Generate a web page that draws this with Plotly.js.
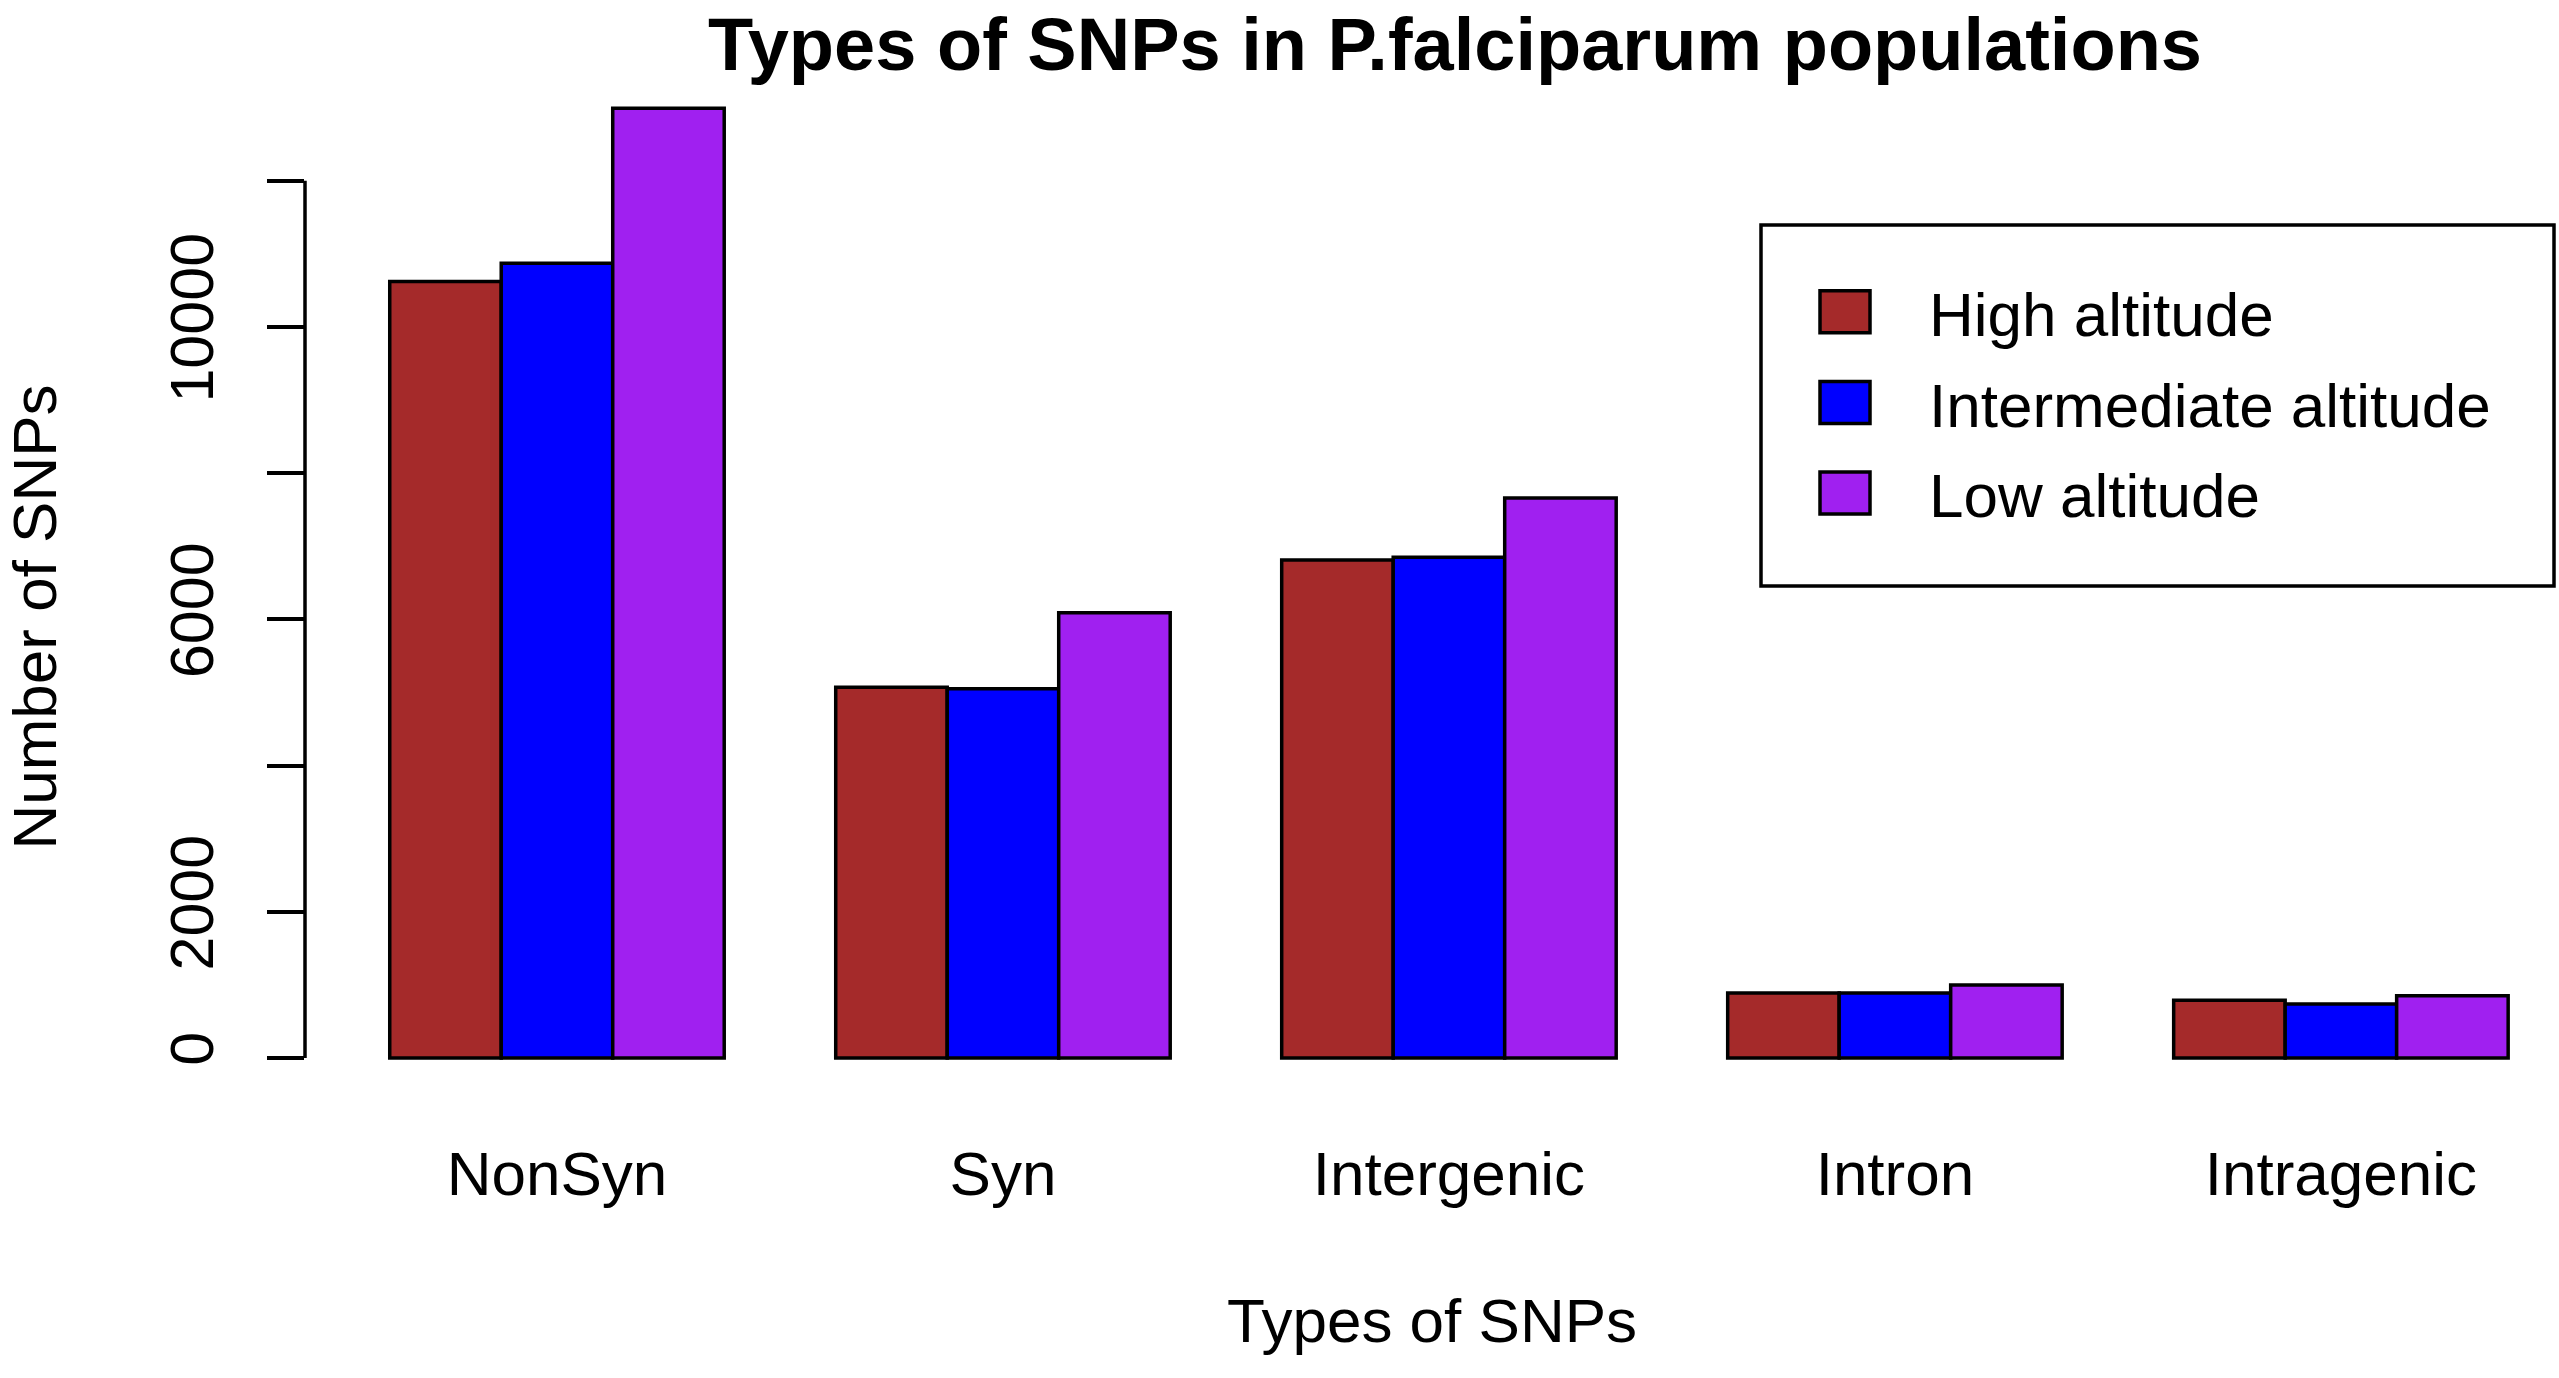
<!DOCTYPE html>
<html>
<head>
<meta charset="utf-8">
<script src="https://cdn.plot.ly/plotly-3.0.1.min.js"></script>
<style>
  html, body { margin: 0; padding: 0; background: #fff; }
  #chart { width: 2559px; height: 1378px; }
</style>
</head>
<body>
<div id="chart"></div>
<script>
// SNP counts
const snpTypes = ["NonSyn", "Syn", "Intergenic", "Intron", "Intragenic"];
const highAltitude = [10620, 5070, 6810, 890, 790];
const intermediateAltitude = [10870, 5050, 6850, 890, 740];
const lowAltitude = [12990, 6090, 7660, 1000, 850];

const yTicks = [0, 2000, 4000, 6000, 8000, 10000, 12000];
const yTickText = ["0", "2000", "", "6000", "", "10000", ""];

const W = 2559, H = 1378;
const marginL = 305, marginR = 0, marginT = 71, marginB = 215;
const plotW = W - marginL - marginR;
const plotH = H - marginT - marginB;
const zeroPx = 1058; // pixel row of y = 0

// page pixel -> paper fraction
const px = x => (x - marginL) / plotW;
const py = y => (H - marginB - y) / plotH;

const font = "Liberation Sans, Arial, Helvetica, sans-serif";
const edge = { color: "#000000", width: 3.5 };

function series(name, values, color) {
  return {
    type: "bar",
    name: name,
    legendgroup: name,
    x: snpTypes,
    y: values,
    marker: { color: color, line: edge },
    hoverinfo: "x+y+name"
  };
}

const data = [
  series("High altitude", highAltitude, "#A52A2A"),
  series("Intermediate altitude", intermediateAltitude, "#0000FF"),
  series("Low altitude", lowAltitude, "#A020F0")
];

const layout = {
  width: W,
  height: H,
  paper_bgcolor: "#ffffff",
  plot_bgcolor: "#ffffff",
  font: { family: font, size: 62, color: "#000000" },
  margin: { l: marginL, r: marginR, t: marginT, b: marginB, pad: 0, autoexpand: false },
  barmode: "group",
  bargap: 0.25,
  bargroupgap: 0,
  title: {
    text: "<b>Types of SNPs in P.falciparum populations</b>",
    font: { family: font, size: 74, color: "#000000" },
    xref: "container",
    x: 1455 / W,
    xanchor: "center",
    yref: "container",
    y: 1 - 70 / H,
    yanchor: "bottom"
  },
  xaxis: {
    type: "category",
    range: [-0.565, 4.489],
    anchor: "free",
    position: py(zeroPx),
    showline: false,
    showgrid: false,
    zeroline: false,
    ticks: "",
    ticklabelstandoff: 74,
    tickfont: { family: font, size: 62 },
    title: { text: "Types of SNPs", font: { family: font, size: 62 }, standoff: 91 },
    automargin: false
  },
  yaxis: {
    range: [-1436, 13500],
    showline: false,
    showgrid: false,
    zeroline: false,
    tickmode: "array",
    tickvals: yTicks,
    ticktext: yTickText,
    ticks: "outside",
    ticklen: 37,
    tickwidth: 3.5,
    tickcolor: "#000000",
    tickangle: -90,
    ticklabelstandoff: 30,
    tickfont: { family: font, size: 61 },
    title: { text: "Number of SNPs", font: { family: font, size: 62 }, standoff: 81 },
    automargin: false
  },
  showlegend: true,
  legend: {
    xref: "paper",
    yref: "paper",
    x: px(1761),
    y: py(265),
    xanchor: "left",
    yanchor: "top",
    bgcolor: "rgba(0,0,0,0)",
    borderwidth: 0,
    itemwidth: 158,
    tracegroupgap: 7,
    traceorder: "grouped",
    font: { family: font, size: 62, color: "#000000" }
  },
  shapes: [
    // y axis line, R style: only spans the tick range
    { type: "line", xref: "paper", yref: "y", x0: 0, x1: 0, y0: 0, y1: 12000,
      line: { color: "#000000", width: 3.5 } },
    // legend frame
    { type: "rect", xref: "paper", yref: "paper",
      x0: px(1761), x1: px(2554), y0: py(586), y1: py(225),
      line: { color: "#000000", width: 3.5 }, fillcolor: "rgba(0,0,0,0)" }
  ]
};

// bigger legend swatches, like the R legend boxes
function bigSwatches(gd) {
  gd.querySelectorAll(".legend .legendpoints path").forEach(function (p) {
    p.setAttribute("d", "M25,21H-25V-21H25Z");
    p.style.strokeWidth = "3.5px";
  });
}

const gd = document.getElementById("chart");
Plotly.newPlot(gd, data, layout, { displayModeBar: false, responsive: false }).then(function () {
  bigSwatches(gd);
  gd.on("plotly_afterplot", function () { bigSwatches(gd); });
});
</script>
</body>
</html>
